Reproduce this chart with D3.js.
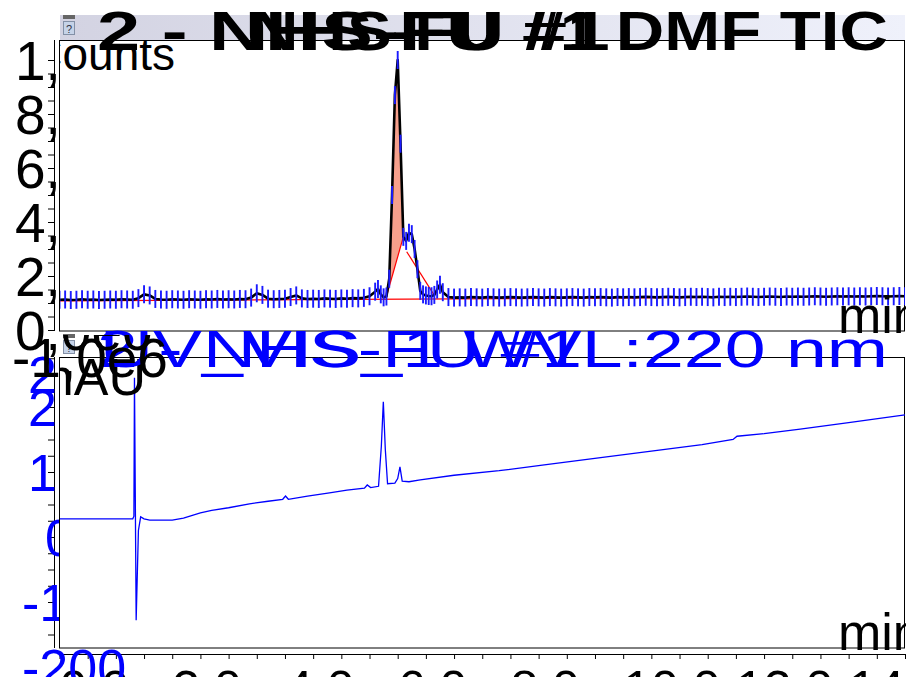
<!DOCTYPE html>
<html lang="en">
  <head>
    <meta charset="UTF-8" />
    <title>Chromatogram</title>
    <style>
      body { margin: 0; background: white; }
      text { font-family: Arial, "Liberation Sans", sans-serif; }
    </style>
  </head>
  <body>
    <svg id="svg" width="906" height="677"></svg>

    <script src="https://d3js.org/d3.v7.min.js"></script>
    <script>
      // MS TIC trace, time in min, counts in thousands
      const ticTimes = [
        0.0, 0.1, 0.2, 0.3, 0.4, 0.5, 0.6, 0.7, 0.8, 0.9, 1.0, 1.1, 1.2, 1.3, 1.4, 1.5, 1.6, 1.7, 1.8, 1.9,
        2.0, 2.1, 2.2, 2.3, 2.4, 2.5, 2.6, 2.7, 2.8, 2.9, 3.0, 3.1, 3.2, 3.3, 3.4, 3.5, 3.6, 3.7, 3.8, 3.9,
        4.0, 4.1, 4.2, 4.3, 4.4, 4.5, 4.6, 4.7, 4.8, 4.9, 5.0, 5.1, 5.2, 5.3, 5.4, 5.5, 5.6,
        5.65, 5.7, 5.75, 5.8, 5.85, 5.9, 5.95, 6.0, 6.05, 6.1, 6.15, 6.2, 6.25, 6.3, 6.35, 6.4, 6.45, 6.5,
        6.55, 6.6, 6.65, 6.7, 6.75, 6.8,
        6.9, 7.0, 7.1, 7.2, 7.3, 7.4, 7.5, 7.6, 7.7, 7.8, 7.9, 8.0, 8.1, 8.2, 8.3, 8.4, 8.5, 8.6, 8.7, 8.8,
        8.9, 9.0, 9.1, 9.2, 9.3, 9.4, 9.5, 9.6, 9.7, 9.8, 9.9, 10.0, 10.1, 10.2, 10.3, 10.4, 10.5, 10.6,
        10.7, 10.8, 10.9, 11.0, 11.1, 11.2, 11.3, 11.4, 11.5, 11.6, 11.7, 11.8, 11.9, 12.0, 12.1, 12.2,
        12.3, 12.4, 12.5, 12.6, 12.7, 12.8, 12.9, 13.0, 13.1, 13.2, 13.3, 13.4, 13.5, 13.6, 13.7, 13.8,
        13.9, 14.0, 14.1, 14.2, 14.3, 14.4, 14.5, 14.6, 14.7, 14.8, 14.9, 15.0,
      ];
      const ticCounts = [
        112, 113, 111, 112, 114, 112, 113, 111, 112, 113, 112, 114, 113, 112, 118, 132, 128, 115, 113, 112,
        114, 113, 112, 114, 113, 112, 114, 113, 115, 113, 114, 113, 115, 114, 120, 136, 130, 116, 114, 115,
        116, 122, 128, 117, 115, 116, 115, 117, 116, 115, 117, 116, 118, 117, 119, 125, 142,
        152, 132, 121, 124, 190, 500, 870, 1000, 690, 345, 330, 360, 355, 300, 225, 145, 132, 128,
        126, 125, 130, 150, 168, 140,
        122, 120, 121, 120, 122, 121, 120, 122, 121, 120, 121, 122, 121, 120, 121, 122, 121, 120, 122, 121,
        120, 121, 122, 121, 120, 122, 121, 122, 121, 120, 122, 121, 122, 121, 122, 123, 122, 121,
        122, 123, 122, 121, 122, 123, 122, 123, 122, 121, 123, 122, 123, 122, 123, 124,
        123, 122, 123, 124, 123, 122, 124, 123, 124, 123, 124, 125, 124, 123, 124, 125,
        124, 125, 124, 125, 124, 125, 126, 125, 124, 125, 126, 125,
      ];

      // integration baselines (red) and the filled main peak
      const baseTimes = [0, 15];
      const baseCounts = [108, 124];
      const peak1BaseTimes = [5.8, 6.1];
      const peak1BaseCounts = [124, 345];
      const peak2BaseTimes = [6.16, 6.65];
      const peak2BaseCounts = [290, 128];

      // UV trace, time in min, mAU
      const uvTimes = [
        0, 0.5, 1.0, 1.3, 1.32, 1.33, 1.36, 1.4, 1.44, 1.5, 1.6, 2.0, 2.2, 2.5, 2.7, 3.0, 3.37, 3.7, 3.96,
        4.01, 4.06, 4.4, 4.79, 5.1, 5.41, 5.46, 5.52, 5.66, 5.71, 5.745, 5.78, 5.82, 5.95, 6.0, 6.04, 6.08,
        6.2, 6.4, 7.0, 7.8, 8.6, 9.6, 10.5, 11.4, 11.95, 12.02, 12.5, 13.14, 14.0, 15.0,
      ];
      const uvMAU = [
        28, 28, 28, 28, 32, 245, -128, 10, 31, 28, 26, 26, 29, 37, 41, 45, 51, 55, 58,
        63, 58, 63, 68, 72, 75, 80, 76, 78, 140, 208, 135, 82, 83, 90, 108, 86,
        85, 88, 95, 102, 111, 122, 132, 142, 150, 155, 159, 166, 176, 188,
      ];

      // tick labels
      const topTickValues = [1000, 800, 600, 400, 200, 0, -100];
      const topTickLabels = ["1,0e6", "8,0e5", "6,0e5", "4,0e5", "2,0e5", "0,0e0", "-1,0e6"];
      const lowTickValues = [250, 200, 100, 0, -100, -200];
      const lowTickLabels = ["250", "200", "100", "0", "-100", "-200"];
      const xTickValues = [0, 2, 4, 6, 8, 10, 12, 14];
      const xTickLabels = ["0.0", "2.0", "4.0", "6.0", "8.0", "10.0", "12.0", "14.0"];

      const topTitle = ["2 - NHS-FU #1", "NHS-FU #1 DMF TIC"];
      const lowTitle = ["2 - NHS-FU #1", "UV_VIS_1 WVL:220 nm"];

      const svg = d3.select("#svg");

      const x = d3.scaleLinear().domain([0, 15]).range([59.5, 905]);
      const yTop = d3.scaleLinear().domain([0, 1000]).range([330, 60]);
      const yLow = d3.scaleLinear().domain([0, 100]).range([537, 472]);

      const defs = svg.append("defs");
      const grad = defs.append("linearGradient").attr("id", "hdr");
      grad.append("stop").attr("offset", "0%").attr("stop-color", "#d3d3e2");
      grad.append("stop").attr("offset", "100%").attr("stop-color", "#eff1fb");

      function clip(id, rects) {
        const c = defs.append("clipPath").attr("id", id);
        rects.forEach((r) =>
          c.append("rect").attr("x", r[0]).attr("y", r[1]).attr("width", r[2]).attr("height", r[3])
        );
      }
      clip("topPlot", [[60, 40, 845, 291]]);
      clip("lowPlot", [[60, 357, 845, 291]]);
      clip("topLbl", [[0, 0, 59, 677], [0, 335, 906, 342]]);
      clip("lowLbl", [[0, 0, 59, 677], [0, 649, 906, 40]]);

      function icon(x0, y0) {
        svg.append("rect").attr("x", x0).attr("y", y0).attr("width", 12).attr("height", 4).attr("fill", "#666");
        svg.append("rect").attr("x", x0 + 0.5).attr("y", y0 + 6.5).attr("width", 11).attr("height", 13)
          .attr("fill", "#c6d3e8").attr("stroke", "#8390a6");
        svg.append("text").attr("x", x0 + 6).attr("y", y0 + 17.5).attr("text-anchor", "middle")
          .attr("font-size", 11).attr("fill", "#334").text("?");
      }

      // ---------- top panel (MS) ----------
      svg.append("rect").attr("x", 60).attr("y", 15).attr("width", 845).attr("height", 25).attr("fill", "url(#hdr)");
      icon(63, 15);

      svg.append("rect").attr("x", 59.5).attr("y", 40.5).attr("width", 845).attr("height", 290.5)
        .attr("fill", "white").attr("stroke", "black");

      svg.append("line").attr("x1", 54.5).attr("x2", 54.5).attr("y1", 40).attr("y2", 331).attr("stroke", "black");
      svg.append("g").attr("transform", "translate(54,0)")
        .call(d3.axisLeft(yTop).tickValues(d3.range(0, 1001, 50)).tickSize(6).tickFormat(""))
        .call((g) => g.select(".domain").remove());

      const ticData = ticTimes.map((t, i) => [t, ticCounts[i]]);
      const topPlot = svg.append("g").attr("clip-path", "url(#topPlot)");

      const base1 = d3.scaleLinear().domain(peak1BaseTimes).range(peak1BaseCounts);
      const peakPts = ticData.filter((d) => d[0] >= peak1BaseTimes[0] && d[0] <= peak1BaseTimes[1]);
      topPlot.append("path").datum(peakPts)
        .attr("fill", "#f7a08c")
        .attr("d", d3.area().x((d) => x(d[0])).y0((d) => yTop(base1(d[0]))).y1((d) => yTop(d[1])));

      const redLine = d3.line().x((d) => x(d[0])).y((d) => yTop(d[1]));
      [[baseTimes, baseCounts], [peak1BaseTimes, peak1BaseCounts], [peak2BaseTimes, peak2BaseCounts]].forEach(([ts, cs]) => {
        topPlot.append("path").datum(ts.map((t, i) => [t, cs[i]]))
          .attr("fill", "none").attr("stroke", "red").attr("stroke-width", 1.2).attr("d", redLine);
      });

      topPlot.append("path").datum(ticData)
        .attr("fill", "none").attr("stroke", "black").attr("stroke-width", 2.6).attr("stroke-linejoin", "round")
        .attr("d", d3.line().x((d) => x(d[0])).y((d) => yTop(d[1])));

      // scan markers
      topPlot.selectAll(".mk").data(ticData).join("line").attr("class", "mk")
        .attr("x1", (d) => x(d[0])).attr("x2", (d) => x(d[0]))
        .attr("y1", (d) => yTop(d[1]) - 9).attr("y2", (d) => yTop(d[1]) + 9)
        .attr("stroke", "#1a1aff").attr("stroke-width", 1.9);

      topPlot.append("text").attr("x", 175).attr("y", 70).attr("text-anchor", "end")
        .attr("font-size", 46).text("Counts");
      svg.append("text").attr("x", 838).attr("y", 333).attr("font-size", 52).text("min");

      svg.append("text").attr("x", 97).attr("y", 50).attr("font-size", 55).attr("font-weight", "bold")
        .attr("textLength", 513).attr("lengthAdjust", "spacingAndGlyphs").text(topTitle[0]);
      svg.append("text").attr("x", 250).attr("y", 50).attr("font-size", 55).attr("font-weight", "bold")
        .attr("textLength", 638).attr("lengthAdjust", "spacingAndGlyphs").text(topTitle[1]);

      // ---------- lower panel (UV) ----------
      icon(63, 334);
      svg.append("rect").attr("x", 59.5).attr("y", 357.5).attr("width", 845).attr("height", 290.5)
        .attr("fill", "white").attr("stroke", "black");

      svg.append("line").attr("x1", 54.5).attr("x2", 54.5).attr("y1", 357).attr("y2", 648).attr("stroke", "black");
      svg.append("g").attr("transform", "translate(54,0)")
        .call(d3.axisLeft(yLow).tickValues(d3.range(-150, 276, 25)).tickSize(6).tickFormat(""))
        .call((g) => g.select(".domain").remove());

      svg.append("line").attr("x1", 59.5).attr("x2", 905).attr("y1", 654.5).attr("y2", 654.5).attr("stroke", "black");
      svg.append("g").attr("transform", "translate(0,654)")
        .call(d3.axisBottom(x).tickValues(d3.range(0, 15.01, 0.5)).tickSize(5).tickFormat(""))
        .call((g) => g.select(".domain").remove());

      svg.append("g").selectAll("text").data(xTickValues).join("text")
        .attr("x", (d) => x(d)).attr("y", 706).attr("font-size", 50)
        .text((d, i) => xTickLabels[i]);

      const lowPlot = svg.append("g").attr("clip-path", "url(#lowPlot)");
      lowPlot.append("path").datum(uvTimes.map((t, i) => [t, uvMAU[i]]))
        .attr("fill", "none").attr("stroke", "#0000ff").attr("stroke-width", 1.3)
        .attr("d", d3.line().x((d) => x(d[0])).y((d) => yLow(d[1])));

      lowPlot.append("text").attr("x", 146).attr("y", 395).attr("text-anchor", "end")
        .attr("font-size", 52).text("mAU");
      svg.append("text").attr("x", 838).attr("y", 650).attr("font-size", 52).text("min");

      svg.append("text").attr("x", 97).attr("y", 367).attr("font-size", 52).attr("fill", "#0000ff")
        .attr("textLength", 485).attr("lengthAdjust", "spacingAndGlyphs").text(lowTitle[0]);
      svg.append("text").attr("x", 100).attr("y", 367).attr("font-size", 52).attr("fill", "#0000ff")
        .attr("textLength", 788).attr("lengthAdjust", "spacingAndGlyphs").text(lowTitle[1]);

      svg.append("g").attr("clip-path", "url(#lowLbl)")
        .selectAll("text").data(lowTickValues).join("text")
        .attr("x", (d) => (d > 0 ? 28 : d === 0 ? 45 : 22))
        .attr("y", (d) => yLow(d)).attr("dy", "0.36em")
        .attr("font-size", 52).attr("fill", "#0000ff")
        .text((d, i) => lowTickLabels[i]);

      // top axis labels last, they sit over the lower header
      svg.append("g").attr("clip-path", "url(#topLbl)")
        .selectAll("text").data(topTickValues).join("text")
        .attr("x", (d) => (d < 0 ? 12 : 15))
        .attr("y", (d) => yTop(d)).attr("dy", "0.36em")
        .attr("font-size", 55)
        .text((d, i) => topTickLabels[i]);
    </script>
  </body>
</html>
